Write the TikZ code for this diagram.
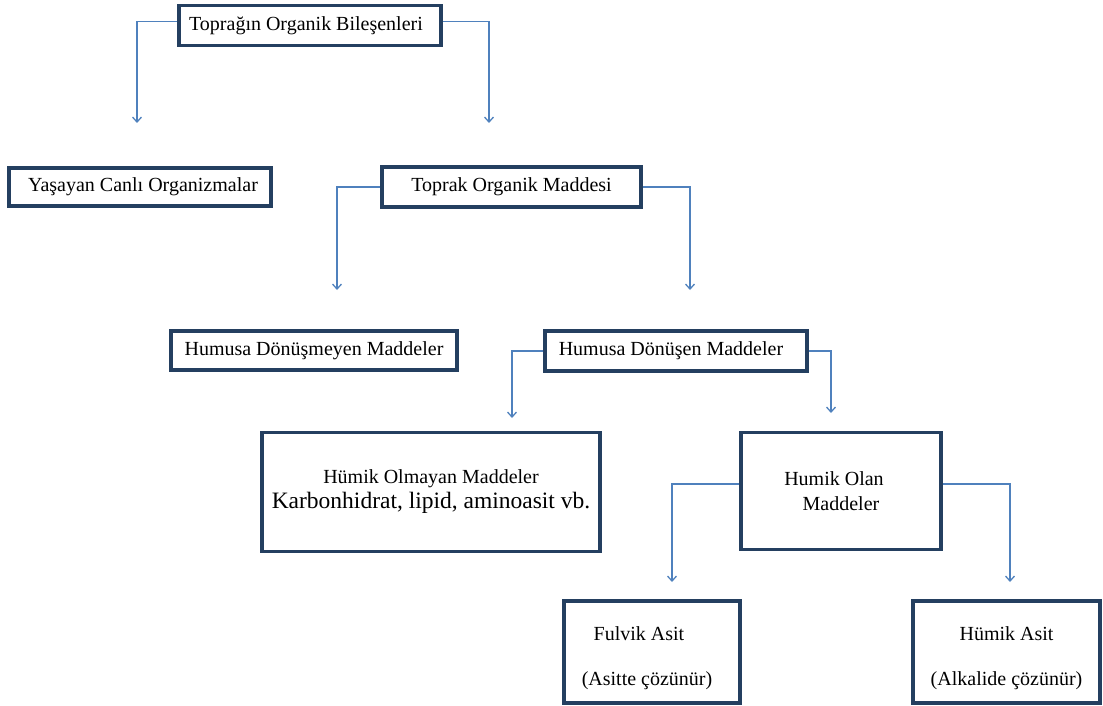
\documentclass[tikz,border=0pt]{standalone}
\usepackage{fontspec}
\setmainfont{Liberation Serif}
\usetikzlibrary{arrows.meta}
\definecolor{boxline}{HTML}{243F60}
\definecolor{linkline}{HTML}{4F81BD}
\begin{document}
\begin{tikzpicture}[x=1pt, y=-1pt,
  kutu/.style={draw=boxline, line width=3.5pt, fill=white, inner sep=0pt, align=center, font=\fontsize{20}{25}\selectfont},
  bag/.style={draw=linkline, line width=1.3pt, -{Straight Barb[length=5pt,width=9pt]}}]
\useasboundingbox (0,0) rectangle (1103,706);
\node[kutu, minimum width=262pt, minimum height=40pt] (oid0) at (310,25.5){Toprağın Organik Bileşenleri\hspace*{8pt}};
\node[kutu, minimum width=262pt, minimum height=38pt] (oid1) at (140,187){\hspace*{6pt}Yaşayan Canlı Organizmalar};
\node[kutu, minimum width=259pt, minimum height=40pt] (oid2) at (511.5,187){Toprak Organik Maddesi};
\node[kutu, minimum width=286pt, minimum height=39pt] (oid3) at (314,350.5){Humusa Dönüşmeyen Maddeler};
\node[kutu, minimum width=262pt, minimum height=40pt] (oid4) at (676,351){Humusa Dönüşen Maddeler\hspace*{10pt}};
\node[kutu, minimum width=338pt, minimum height=119pt] (oid5) at (431,492){Hümik Olmayan Maddeler\\{\fontsize{23.5}{28}\selectfont Karbonhidrat, lipid, aminoasit vb.}};
\node[kutu, minimum width=200pt, minimum height=117pt] (oid6) at (841,491){Humik Olan\hspace*{14pt}\\Maddeler};
\node[kutu, minimum width=176pt, minimum height=102pt] (oid7) at (652,652){\rule{0pt}{26pt}Fulvik Asit\hspace*{26pt}\\[20pt](Asitte çözünür)\hspace*{10pt}};
\node[kutu, minimum width=187pt, minimum height=102pt] (oid8) at (1006.5,652){\rule{0pt}{26pt}Hümik Asit\\[20pt](Alkalide çözünür)};
% arrow ends
\coordinate (aid1) at (137,123);
\coordinate (aid2) at (489,123);
\coordinate (aid3) at (337,290);
\coordinate (aid4) at (690,290);
\coordinate (aid5) at (512,418);
\coordinate (aid6) at (831,413);
\coordinate (aid7) at (672,582);
\coordinate (aid8) at (1010,582);
\draw[bag] ([yshift=4pt]oid0.west) -| (aid1);
\draw[bag] ([yshift=4pt]oid0.east) -| (aid2);
\draw[bag] (oid2.west) -| (aid3);
\draw[bag] (oid2.east) -| (aid4);
\draw[bag] (oid4.west) -| (aid5);
\draw[bag] (oid4.east) -| (aid6);
\draw[bag] ([yshift=7pt]oid6.west) -| (aid7);
\draw[bag] ([yshift=7pt]oid6.east) -| (aid8);
\end{tikzpicture}
\end{document}
